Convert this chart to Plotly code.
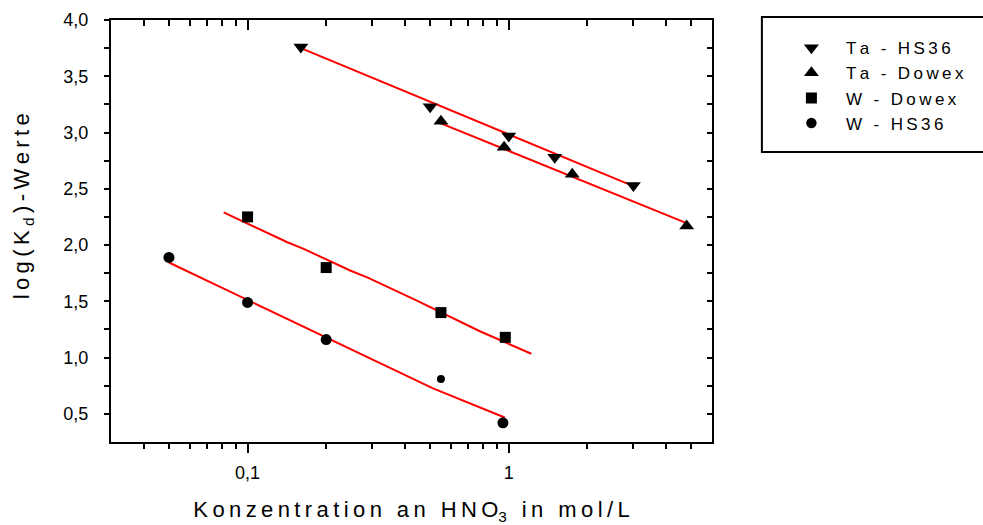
import plotly.graph_objects as go

# Measured distribution coefficients: HNO3 concentration (mol/L) vs log(Kd)
conc_ta_hs36 = [0.16, 0.5, 1.0, 1.5, 3.0]
logkd_ta_hs36 = [3.76, 3.23, 2.97, 2.78, 2.53]

conc_ta_dowex = [0.55, 0.96, 1.75, 4.8]
logkd_ta_dowex = [3.10, 2.87, 2.63, 2.17]

conc_w_dowex = [0.1, 0.2, 0.55, 0.97]
logkd_w_dowex = [2.25, 1.80, 1.40, 1.18]

conc_w_hs36 = [0.05, 0.1, 0.2, 0.55, 0.95]
logkd_w_hs36 = [1.89, 1.49, 1.16, 0.81, 0.42]

# Fitted curves
fit_ta_hs36_x = [0.16, 2.92]
fit_ta_hs36_y = [3.75, 2.535]
fit_ta_dowex_x = [0.55, 4.77]
fit_ta_dowex_y = [3.082, 2.197]
fit_w_dowex_x = [0.081, 0.142, 0.164, 0.247, 0.290, 0.445, 0.775, 1.22]
fit_w_dowex_y = [2.29, 2.025, 1.966, 1.774, 1.709, 1.507, 1.234, 1.034]
fit_w_hs36_x = [0.05, 0.513, 0.965]
fit_w_hs36_y = [1.845, 0.726, 0.468]

# Axis ticks
x_tickvals = [0.1, 1]
x_ticktext = ["0,1", "1"]
x_minor = [0.04, 0.05, 0.06, 0.07, 0.08, 0.09,
           0.2, 0.3, 0.4, 0.5, 0.6, 0.7, 0.8, 0.9,
           2, 3, 4, 5]
y_tickvals = [0.5, 1.0, 1.5, 2.0, 2.5, 3.0, 3.5, 4.0]
y_ticktext = ["0,5", "1,0", "1,5", "2,0", "2,5", "3,0", "3,5", "4,0"]
y_minor = [0.75, 1.25, 1.75, 2.25, 2.75, 3.25, 3.75]

X_RANGE_LOG = [-1.5229, 0.7782]   # 0.03 .. 6 mol/L
Y_RANGE = [0.25, 4.0]

FONT = "Liberation Sans, Arial, sans-serif"
THIN = "\u2009"


def spaced(s):
    return THIN.join(s)


fig = go.Figure()

series = [
    ("Ta - HS36", conc_ta_hs36, logkd_ta_hs36, "triangle-down", 13),
    ("Ta - Dowex", conc_ta_dowex, logkd_ta_dowex, "triangle-up", 13),
    ("W - Dowex", conc_w_dowex, logkd_w_dowex, "square", 11),
    ("W - HS36", conc_w_hs36, logkd_w_hs36, "circle", [11, 11, 11, 8, 11]),
]
fits = [
    (fit_ta_hs36_x, fit_ta_hs36_y),
    (fit_ta_dowex_x, fit_ta_dowex_y),
    (fit_w_dowex_x, fit_w_dowex_y),
    (fit_w_hs36_x, fit_w_hs36_y),
]

for fx, fy in fits:
    fig.add_trace(go.Scatter(x=fx, y=fy, mode="lines",
                             line=dict(color="#ff0000", width=2),
                             showlegend=False, hoverinfo="skip"))

for name, xs, ys, sym, size in series:
    fig.add_trace(go.Scatter(x=xs, y=ys, mode="markers", name=spaced(name),
                             marker=dict(symbol=sym, size=size, color="black",
                                         opacity=1, line=dict(width=0))))

# empty trace so the mirrored (inside-tick) top/right axes are drawn
fig.add_trace(go.Scatter(x=[], y=[], xaxis="x2", yaxis="y2",
                         showlegend=False, hoverinfo="skip"))

axis_common = dict(showgrid=False, zeroline=False, showline=True,
                   linecolor="black", linewidth=2, tickcolor="black",
                   tickwidth=1.5, automargin=False)

xtitle = (spaced("Konzentration an HNO") + "<sub>3</sub>" + THIN
          + spaced(" in mol/L"))
ytitle = spaced("log(K") + THIN + "<sub>d</sub>" + THIN + spaced(")-Werte")

fig.update_layout(
    width=983, height=525,
    margin=dict(l=111, r=271, t=20, b=83),
    paper_bgcolor="white", plot_bgcolor="white",
    font=dict(family=FONT, color="black", size=18),
    separators=",.",
    xaxis=dict(type="log", range=X_RANGE_LOG, tickmode="array",
               tickvals=x_tickvals, ticktext=x_ticktext, ticks="outside",
               ticklen=9, ticklabelstandoff=4,
               minor=dict(tickmode="array", tickvals=x_minor, ticks="outside",
                          ticklen=5, tickwidth=1.5, tickcolor="black"),
               title=dict(text=xtitle, font=dict(size=22), standoff=22),
               tickfont=dict(size=18), **axis_common),
    yaxis=dict(range=Y_RANGE, tickmode="array", tickvals=y_tickvals,
               ticktext=y_ticktext, ticks="outside", ticklen=5,
               ticklabelstandoff=12,
               minor=dict(tickmode="array", tickvals=y_minor, ticks="outside",
                          ticklen=5, tickwidth=1.5, tickcolor="black"),
               tickfont=dict(size=18), **axis_common),
    xaxis2=dict(type="log", range=X_RANGE_LOG, overlaying="x",
                side="top", tickmode="array", tickvals=x_tickvals,
                ticks="inside", ticklen=10, showticklabels=False,
                minor=dict(tickmode="array", tickvals=x_minor, ticks="inside",
                           ticklen=6, tickwidth=1.5, tickcolor="black"),
                **axis_common),
    yaxis2=dict(range=Y_RANGE, overlaying="y", side="right", tickmode="array",
                tickvals=y_tickvals, ticks="inside", ticklen=5,
                showticklabels=False,
                minor=dict(tickmode="array", tickvals=y_minor, ticks="inside",
                           ticklen=5, tickwidth=1.5, tickcolor="black"),
                **axis_common),
    legend=dict(x=1.108, y=0.976, xanchor="left", yanchor="top",
                bgcolor="rgba(0,0,0,0)", borderwidth=0, itemwidth=59,
                font=dict(size=17), traceorder="normal"),
    shapes=[dict(type="rect", xref="paper", yref="paper",
                 x0=1.083, x1=1.5, y0=0.687, y1=1.007,
                 line=dict(color="black", width=2), fillcolor="rgba(0,0,0,0)")],
    annotations=[dict(text=ytitle, textangle=-90, xref="paper", yref="paper",
                      x=-0.146, y=0.559, xanchor="center", yanchor="middle",
                      showarrow=False, font=dict(size=22))],
)

fig.write_html("out.html")
